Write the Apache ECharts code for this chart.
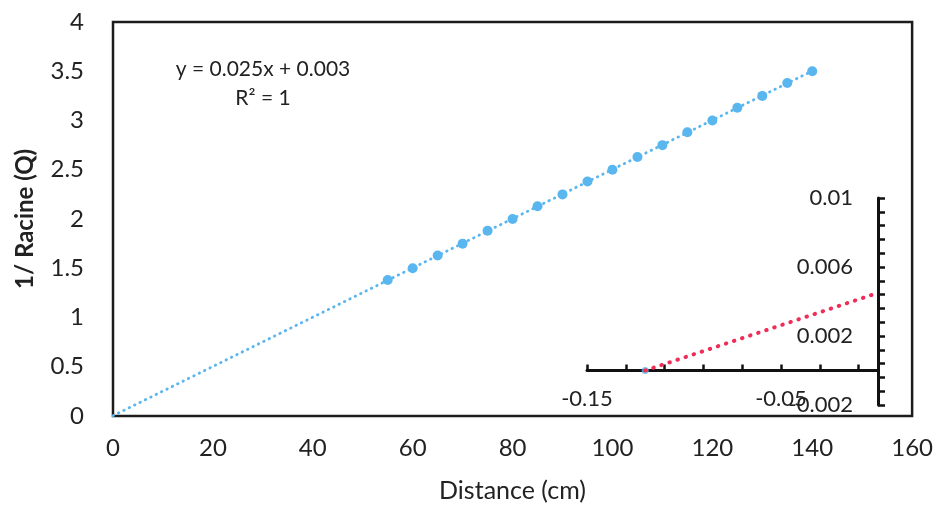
<!DOCTYPE html>
<html>
<head>
<meta charset="utf-8">
<script src="https://cdn.jsdelivr.net/npm/echarts@6/dist/echarts.min.js"></script>
<style>
  html, body { margin: 0; padding: 0; background: #fff; }
  #chart { width: 936px; height: 508px; }
</style>
</head>
<body>
<div id="chart"></div>
<script>
const distance = [55, 60, 65, 70, 75, 80, 85, 90, 95, 100, 105, 110, 115, 120, 125, 130, 135, 140];
const invRacine = [1.38, 1.50, 1.63, 1.75, 1.88, 2.00, 2.13, 2.25, 2.38, 2.50, 2.63, 2.75, 2.88, 3.00, 3.13, 3.25, 3.38, 3.50];
// courbe de tendance
const trendX = [0, 140];
const trendY = [0.003, 3.503];
// encart (zoom sur l'origine)
const insetX = [-0.12, 0];
const insetY = [0, 0.0045];
const insetXTicks = [-0.15, -0.13, -0.11, -0.09, -0.07, -0.05, -0.03, -0.01];
const insetXLabels = [-0.15, -0.05];
const insetYTicks = [-0.002, -0.0012, -0.0004, 0.0004, 0.0012, 0.002, 0.0028, 0.0036, 0.0044, 0.0052, 0.006, 0.0068, 0.0076, 0.0084, 0.0092, 0.01];
const insetYLabels = [-0.002, 0.002, 0.006, 0.01];

const font = 'Lato';
const txt = '#222';
const blue = '#5ab6ee';
const red = '#ee2d58';

const chart = echarts.init(document.getElementById('chart'));
const option = {
  backgroundColor: '#fff',
  animation: false,
  textStyle: { fontFamily: font, color: txt },
  grid: [
    { left: 113, top: 22, width: 806, height: 396, show: true, borderColor: '#1c1c1c', borderWidth: 2.5, backgroundColor: 'transparent' },
    { left: 587, top: 198, width: 291, height: 207 }
  ],
  xAxis: [
    {
      type: 'value', gridIndex: 0, min: 0, max: 160, interval: 20,
      name: 'Distance (cm)', nameLocation: 'middle', nameGap: 62,
      nameTextStyle: { fontFamily: font, fontSize: 25, color: txt },
      axisLine: { show: false }, axisTick: { show: false }, splitLine: { show: false },
      axisLabel: { fontFamily: font, fontSize: 24, color: txt, margin: 20 }
    },
    {
      type: 'value', gridIndex: 1, min: -0.15, max: 0,
      axisLine: { show: true, onZero: true, lineStyle: { color: '#111', width: 3 } },
      axisTick: { show: true, inside: true, length: 6, customValues: insetXTicks, lineStyle: { color: '#111', width: 2.5 } },
      axisLabel: { customValues: insetXLabels, fontFamily: font, fontSize: 22, color: txt, margin: -17 },
      splitLine: { show: false }
    }
  ],
  yAxis: [
    {
      type: 'value', gridIndex: 0, min: 0, max: 4, interval: 0.5,
      name: '1/ Racine (Q)', nameLocation: 'middle', nameGap: 76,
      nameTextStyle: { fontFamily: font, fontSize: 24, fontWeight: 'bold', color: txt },
      axisLine: { show: false }, axisTick: { show: false }, splitLine: { show: false },
      axisLabel: { fontFamily: font, fontSize: 24, color: txt, margin: 29 }
    },
    {
      type: 'value', gridIndex: 1, position: 'right', min: -0.002, max: 0.01,
      axisLine: { show: true, onZero: false, lineStyle: { color: '#111', width: 3 } },
      axisTick: { show: true, inside: false, length: 7, customValues: insetYTicks, lineStyle: { color: '#111', width: 2.5 } },
      axisLabel: { inside: true, customValues: insetYLabels, fontFamily: font, fontSize: 22, color: txt, margin: 25 },
      splitLine: { show: false }
    }
  ],
  graphic: [
    { type: 'text', x: 263, y: 59, style: { text: 'y = 0.025x + 0.003', font: '21px Lato', fill: txt, align: 'center' } },
    { type: 'text', x: 263, y: 88, style: { text: 'R² = 1', font: '21px Lato', fill: txt, align: 'center' } }
  ],
  series: [
    {
      type: 'line', xAxisIndex: 0, yAxisIndex: 0, showSymbol: false, silent: true,
      data: trendX.map((x, i) => [x, trendY[i]]),
      lineStyle: { color: blue, width: 2.8, type: [0.5, 5.5], cap: 'round' }
    },
    {
      type: 'scatter', xAxisIndex: 0, yAxisIndex: 0, symbolSize: 10,
      data: distance.map((x, i) => [x, invRacine[i]]),
      itemStyle: { color: blue, opacity: 1 }
    },
    {
      type: 'line', xAxisIndex: 1, yAxisIndex: 1, showSymbol: false, silent: true,
      data: insetX.map((x, i) => [x, insetY[i]]),
      lineStyle: { color: red, width: 4, type: [0.5, 8], cap: 'round' }
    },
    {
      type: 'scatter', xAxisIndex: 1, yAxisIndex: 1, symbolSize: 7,
      data: [[insetX[0], insetY[0]]],
      itemStyle: { color: blue }
    }
  ]
};
chart.setOption(option);
</script>
</body>
</html>
